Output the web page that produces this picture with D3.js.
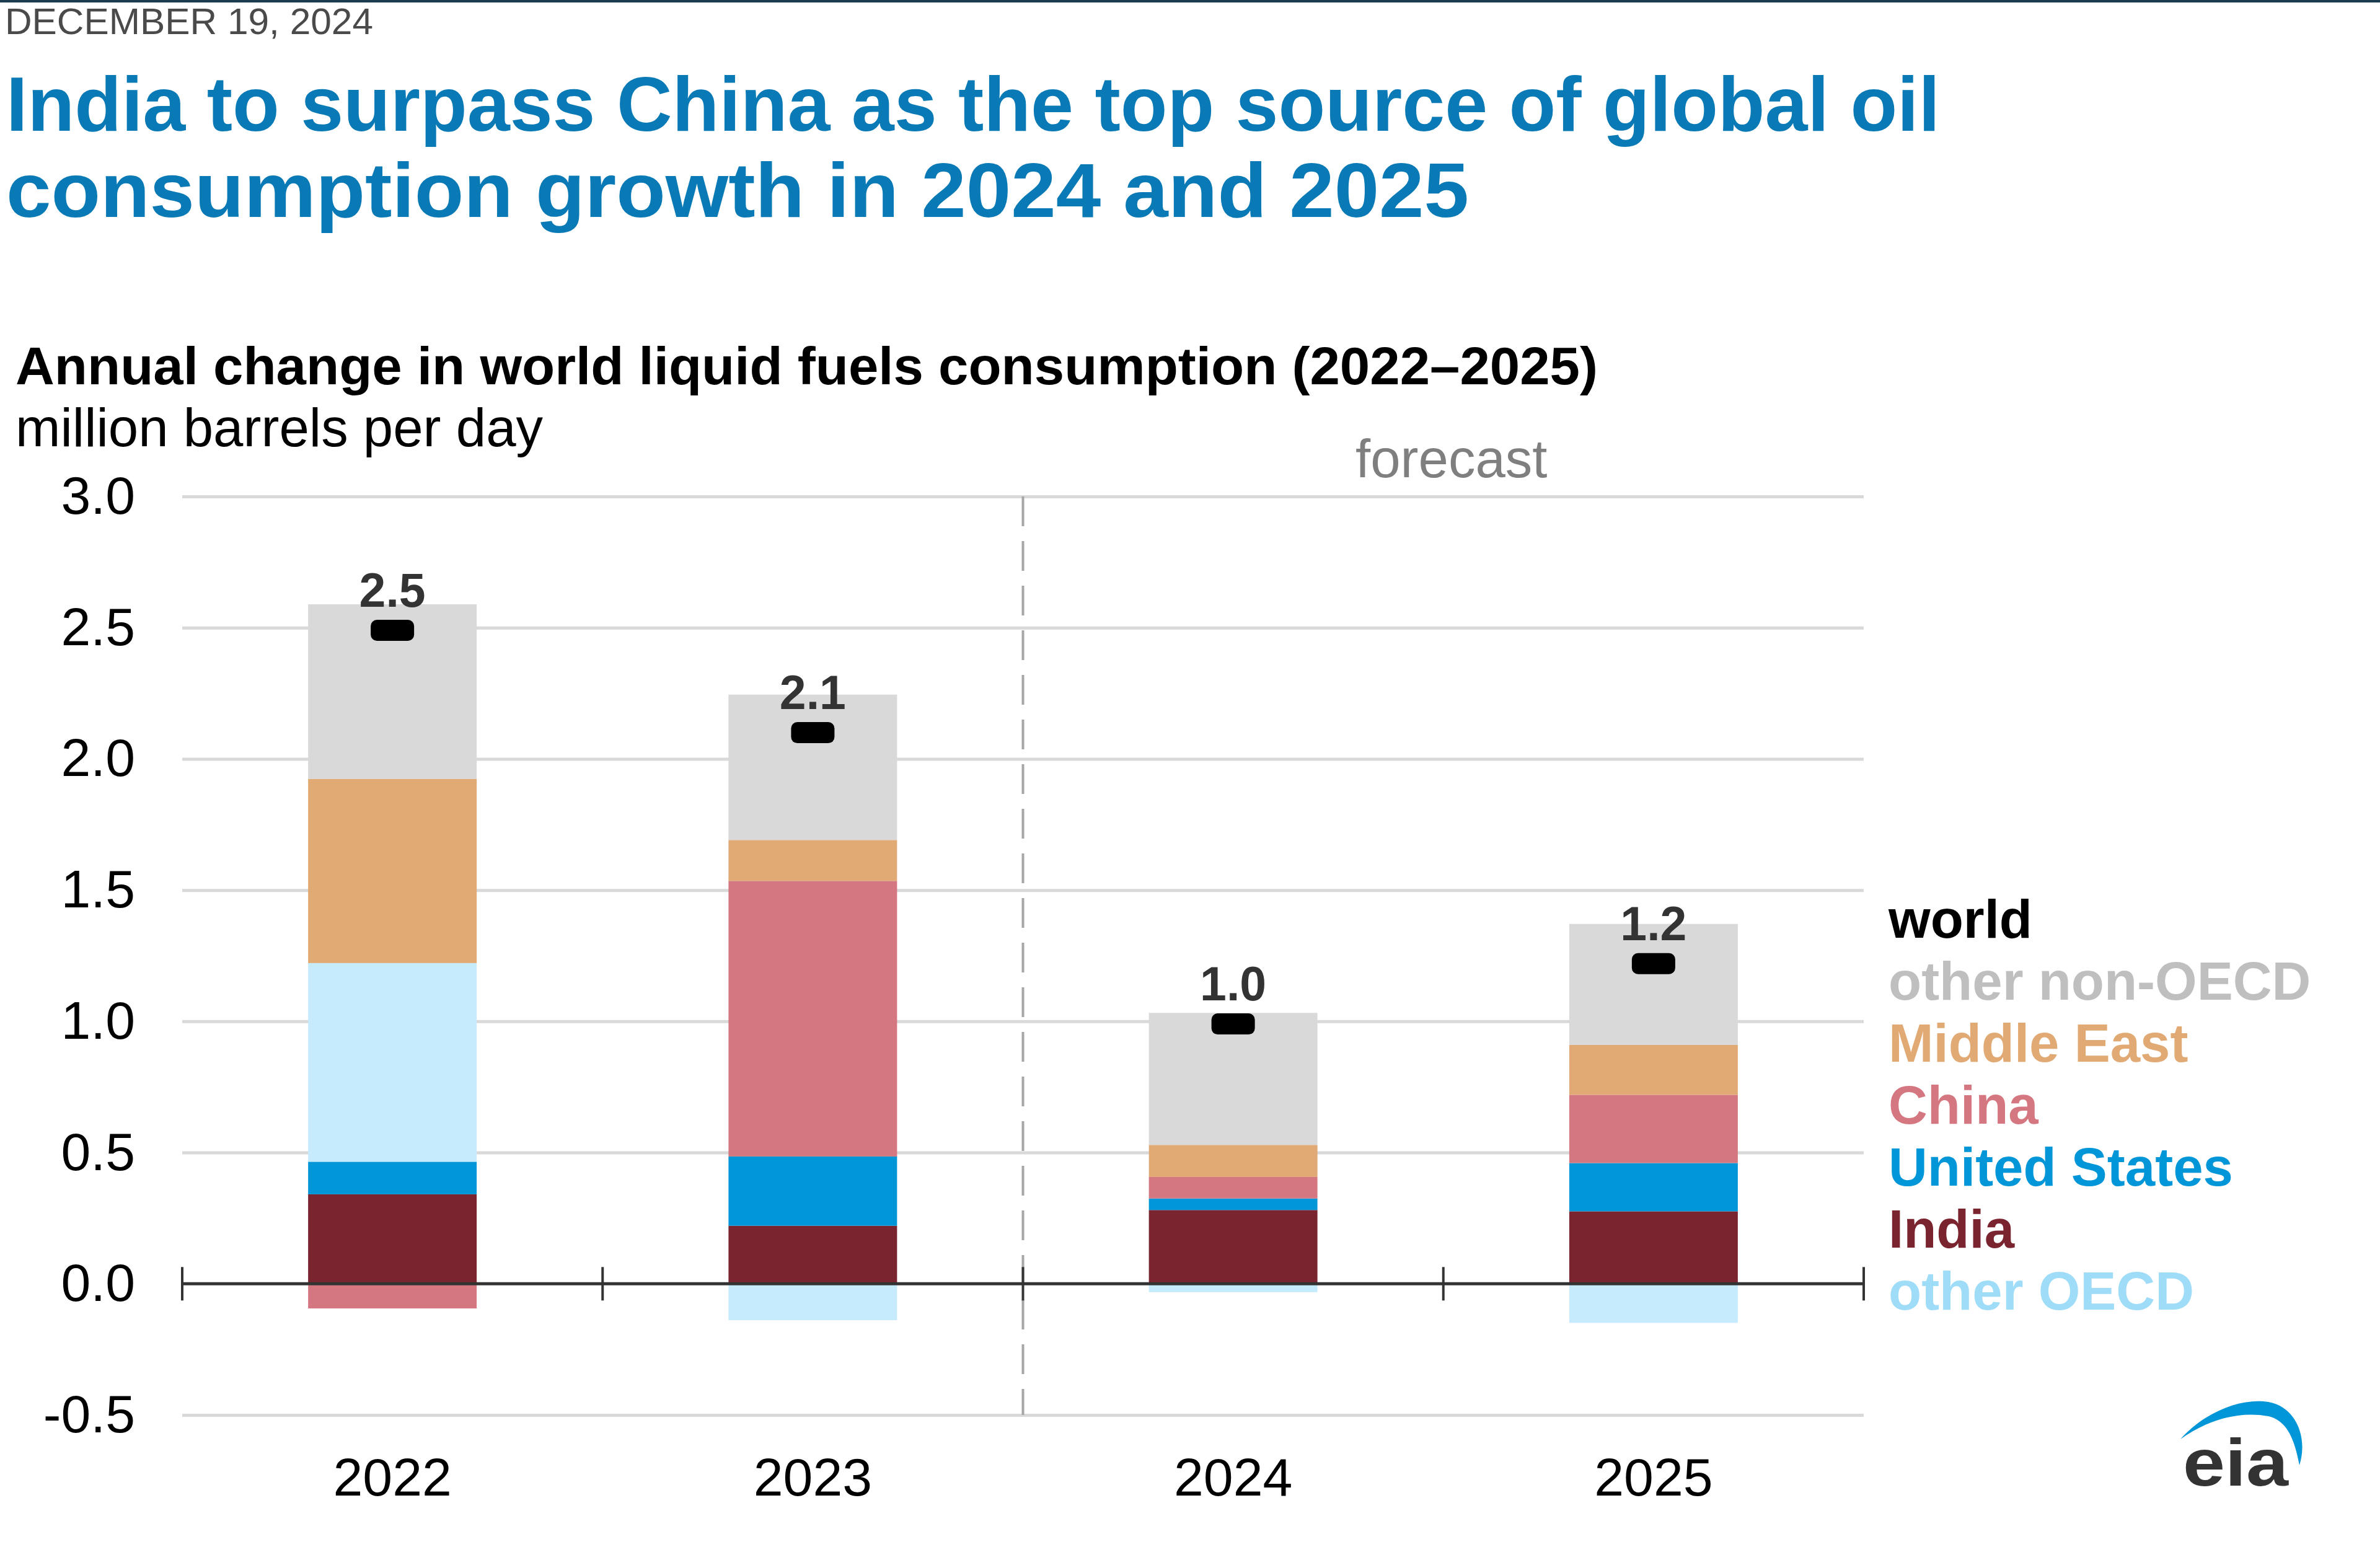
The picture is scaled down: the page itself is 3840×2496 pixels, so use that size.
<!DOCTYPE html>
<html>
<head>
<meta charset="utf-8">
<script src="https://cdn.jsdelivr.net/npm/d3@7"></script>
<style>
  html, body { margin: 0; padding: 0; background: #fff; }
  svg { display: block; }
  text { font-family: "Liberation Sans", Arial, sans-serif; }
</style>
</head>
<body>
<svg id="chart" width="3840" height="2496"></svg>
<script>
// ---------------- data ----------------
const years = ["2022", "2023", "2024", "2025"];
const india        = [0.341, 0.221, 0.281, 0.276];
const unitedStates = [0.124, 0.264, 0.044, 0.184];
const otherOECD    = [0.757, -0.139, -0.032, -0.149];
const china        = [-0.094, 1.050, 0.082, 0.260];
const middleEast   = [0.702, 0.156, 0.122, 0.190];
const otherNonOECD = [0.665, 0.554, 0.503, 0.461];
const world        = [2.49, 2.10, 0.99, 1.22];
const worldLabels  = ["2.5", "2.1", "1.0", "1.2"];
const yTicks       = [-0.5, 0.0, 0.5, 1.0, 1.5, 2.0, 2.5, 3.0];
const seriesKeys   = ["India", "United States", "other OECD", "China", "Middle East", "other non-OECD"];
const legendLabels = ["world", "other non-OECD", "Middle East", "China", "United States", "India", "other OECD"];

// ---------------- styles ----------------
const fillColors = {
  "India": "#7a2430",
  "United States": "#0096d7",
  "other OECD": "#c5ebfd",
  "China": "#d57780",
  "Middle East": "#e1aa74",
  "other non-OECD": "#d9d9d9"
};
const legendColors = {
  "world": "#000000",
  "other non-OECD": "#bfbfbf",
  "Middle East": "#e1aa74",
  "China": "#d57780",
  "United States": "#0096d7",
  "India": "#7a2430",
  "other OECD": "#9fdcf8"
};

const seriesValues = {
  "India": india, "United States": unitedStates, "other OECD": otherOECD,
  "China": china, "Middle East": middleEast, "other non-OECD": otherNonOECD
};
const table = years.map((yr, i) => {
  const row = { year: yr, world: world[i], label: worldLabels[i] };
  seriesKeys.forEach(k => row[k] = seriesValues[k][i]);
  return row;
});

const svg = d3.select("#chart");
svg.append("rect").attr("width", 3840).attr("height", 2496).attr("fill", "#fff");

// top rule
svg.append("rect").attr("x", 0).attr("y", 0).attr("width", 3840).attr("height", 4).attr("fill", "#1c3b4e");

// header
svg.append("text").attr("x", 8).attr("y", 55)
  .attr("font-size", 60).attr("fill", "#4a4a4a")
  .attr("textLength", 594).attr("lengthAdjust", "spacingAndGlyphs")
  .text("DECEMBER 19, 2024");

const headStyle = s => s.attr("font-family", "Lato, 'Noto Sans', sans-serif")
  .attr("font-weight", 700).attr("font-size", 124).attr("fill", "#0a7ab6")
  .attr("lengthAdjust", "spacingAndGlyphs");
svg.append("text").attr("x", 10).attr("y", 211).call(headStyle)
  .attr("textLength", 3120)
  .text("India to surpass China as the top source of global oil");
svg.append("text").attr("x", 10).attr("y", 350).call(headStyle)
  .attr("textLength", 2360)
  .text("consumption growth in 2024 and 2025");

svg.append("text").attr("x", 25).attr("y", 620)
  .attr("font-size", 86).attr("font-weight", 700).attr("fill", "#000")
  .attr("textLength", 2553).attr("lengthAdjust", "spacingAndGlyphs")
  .text("Annual change in world liquid fuels consumption (2022\u20132025)");
svg.append("text").attr("x", 25).attr("y", 720)
  .attr("font-size", 87).attr("fill", "#000")
  .text("million barrels per day");

// ---------------- scales ----------------
const x0 = 294, x1 = 3007;
const x = d3.scaleBand().domain(years).range([x0, x1]).padding(0);
const barW = x.bandwidth() * 0.401;
const y = d3.scaleLinear().domain([-0.5, 3.0]).range([2283, 801]);

// gridlines
const grid = svg.append("g").attr("transform", `translate(${x0},0)`)
  .call(d3.axisLeft(y).tickValues(yTicks.filter(t => t !== 0)).tickSize(-(x1 - x0)).tickFormat(""));
grid.select(".domain").remove();
grid.selectAll(".tick line").attr("stroke", "#d9d9d9").attr("stroke-width", 5);

// y labels
const fmt = d3.format(".1f");
const yAx = svg.append("g").attr("transform", `translate(218,0)`)
  .call(d3.axisLeft(y).tickValues(yTicks).tickSize(0).tickPadding(0)
    .tickFormat(d => fmt(d).replace("\u2212", "-")));
yAx.select(".domain").remove();
yAx.selectAll("text").attr("font-size", 86).attr("fill", "#000")
  .attr("font-family", "'Liberation Sans', Arial, sans-serif");

// forecast divider
svg.append("line")
  .attr("x1", x("2024")).attr("x2", x("2024"))
  .attr("y1", y(3.0)).attr("y2", y(-0.5))
  .attr("stroke", "#a6a6a6").attr("stroke-width", 4).attr("stroke-dasharray", "48,24");
svg.append("text").attr("x", 2187).attr("y", 770)
  .attr("font-size", 87).attr("fill", "#7f7f7f").text("forecast");

// ---------------- stacked bars ----------------
const stack = d3.stack().keys(seriesKeys).offset(d3.stackOffsetDiverging);
const layers = stack(table);

svg.append("g").selectAll("g").data(layers).join("g")
  .attr("fill", d => fillColors[d.key])
  .selectAll("rect").data(d => d).join("rect")
  .attr("x", d => x(d.data.year) + (x.bandwidth() - barW) / 2)
  .attr("width", barW)
  .attr("y", d => y(Math.max(d[0], d[1])))
  .attr("height", d => Math.abs(y(d[0]) - y(d[1])));

// zero axis with ticks at band edges
svg.append("line").attr("x1", x0).attr("x2", x1).attr("y1", y(0)).attr("y2", y(0))
  .attr("stroke", "#333").attr("stroke-width", 5);
const edges = years.map(yr => x(yr)).concat([x1]);
svg.append("g").selectAll("line").data(edges).join("line")
  .attr("x1", d => d).attr("x2", d => d)
  .attr("y1", y(0) - 27).attr("y2", y(0) + 27)
  .attr("stroke", "#333").attr("stroke-width", 4);

// x labels
const xAx = svg.append("g").attr("transform", `translate(0,2348)`)
  .call(d3.axisBottom(x).tickSize(0).tickPadding(0));
xAx.select(".domain").remove();
xAx.selectAll("text").attr("font-size", 86).attr("fill", "#000")
  .attr("font-family", "'Liberation Sans', Arial, sans-serif")
  .attr("dy", "0.75em");

// world markers
svg.append("g").selectAll("rect").data(table).join("rect")
  .attr("x", d => x(d.year) + x.bandwidth() / 2 - 35)
  .attr("y", d => y(d.world) - 17)
  .attr("width", 70).attr("height", 34).attr("rx", 10).attr("ry", 10)
  .attr("fill", "#000");

svg.append("g").selectAll("text").data(table).join("text")
  .attr("x", d => x(d.year) + x.bandwidth() / 2)
  .attr("y", d => y(d.world) - 38)
  .attr("text-anchor", "middle")
  .attr("font-size", 77).attr("font-weight", 700).attr("fill", "#333")
  .text(d => d.label);

// legend
svg.append("g").selectAll("text").data(legendLabels).join("text")
  .attr("x", 3047)
  .attr("y", (d, i) => 1513 + i * 100)
  .attr("font-size", 87).attr("font-weight", 700)
  .attr("fill", d => legendColors[d])
  .text(d => d);

// eia logo
svg.append("path")
  .attr("d", "M3518,2322 C3560,2275 3620,2255 3660,2262 C3705,2270 3724,2320 3710,2364 C3702,2322 3690,2292 3660,2285 C3610,2276 3560,2292 3518,2322 Z")
  .attr("fill", "#0096d7");
svg.append("text").attr("x", 3522).attr("y", 2397)
  .attr("font-size", 108).attr("font-weight", 700).attr("fill", "#333")
  .attr("textLength", 170).attr("lengthAdjust", "spacingAndGlyphs")
  .text("eia");
</script>
</body>
</html>
